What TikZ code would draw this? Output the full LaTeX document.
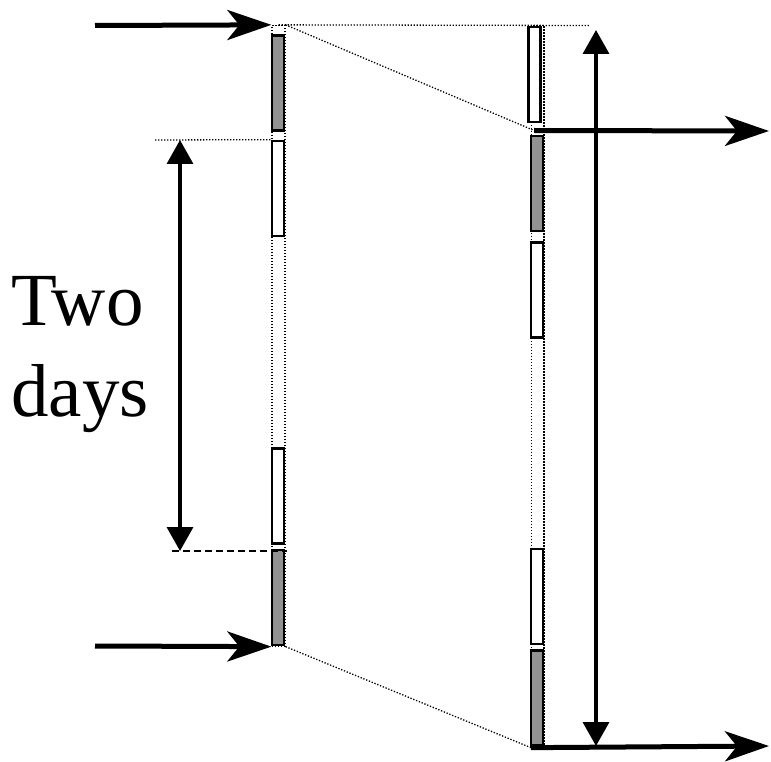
\documentclass[tikz,border=0pt]{standalone}
\usepackage{fontspec}
\setmainfont{Liberation Serif}
\usetikzlibrary{arrows.meta}
\definecolor{bargray}{RGB}{146,146,146}
\begin{document}
\begin{tikzpicture}[x=1pt, y=-1pt,
  bar/.style={draw, line width=2.7pt, minimum width=12pt, minimum height=95pt, inner sep=0pt},
  track/.style={draw, dash pattern=on 1.3pt off 1.7pt, line width=1.3pt, inner sep=0pt},
  guide/.style={dash pattern=on 1.3pt off 1.7pt, line width=1.3pt},
  cut/.style={dash pattern=on 7pt off 4pt, line width=2pt},
  flow/.style={-{Stealth[length=44pt, width=30pt, inset=12pt]}, line width=5pt},
  period/.style={{Triangle[length=24pt, width=26pt]}-{Triangle[length=24pt, width=26pt]}, line width=3.5pt},
  note/.style={font=\fontsize{75}{91}\selectfont, align=left, inner sep=0pt}
]
\useasboundingbox (0,0) rectangle (771,762);
% dotted outlines of the two columns
\node[track, minimum width=13pt, minimum height=620.5pt] (lcol) at (278.5,335.75) {};
\node[track, minimum width=12.5pt, minimum height=721.5pt] (rcol) at (537.75,386.25) {};
% blocks
\foreach \n/\y/\c in {l1/83/bargray, l2/188.5/white, l3/496/white, l4/597.5/bargray}
  \node[bar, fill=\c] (\n) at (278,\y) {};
\node[bar, fill=white] (r1) at (534.5,74.5) {};
\foreach \n/\y/\c in {r2/183.5/bargray, r3/290/white, r4/596.5/white, r5/698/bargray}
  \node[bar, fill=\c] (\n) at (537,\y) {};
\node[note] (label) at (80,354.5) {Two\\days};
% free ends
\coordinate (lin1) at (95,25.5);
\coordinate (lin2) at (95,646);
\coordinate (split) at (534,130.5);
\coordinate (rend) at (590,25.5);
\coordinate (rout1) at (769,131);
\coordinate (rout2) at (769,746);
\coordinate (ptop) at (180,140);
\coordinate (pbot) at (180,551);
\coordinate (gl) at (155,140);
\coordinate (dl) at (172,551);
\coordinate (dr) at (287,551);
\coordinate (wtop) at (596,30);
\coordinate (wbot) at (596,746);
% connectors
\draw[guide] (lcol.north) -- (rend);
\draw[guide] (lcol.north east) -- (split);
\draw[guide] (lcol.south east) -- (rcol.south west);
\draw[guide] (gl) -- (l2.north west);
\draw[cut] (dl) -- (dr);
\draw[flow] (lin1) -- (lcol.north west);
\draw[flow] (lin2) -- (lcol.south west);
\draw[flow] (split) -- (rout1);
\draw[flow] (rcol.south west) -- (rout2);
\draw[period] (ptop) -- (pbot);
\draw[period] (wtop) -- (wbot);
\end{tikzpicture}
\end{document}
